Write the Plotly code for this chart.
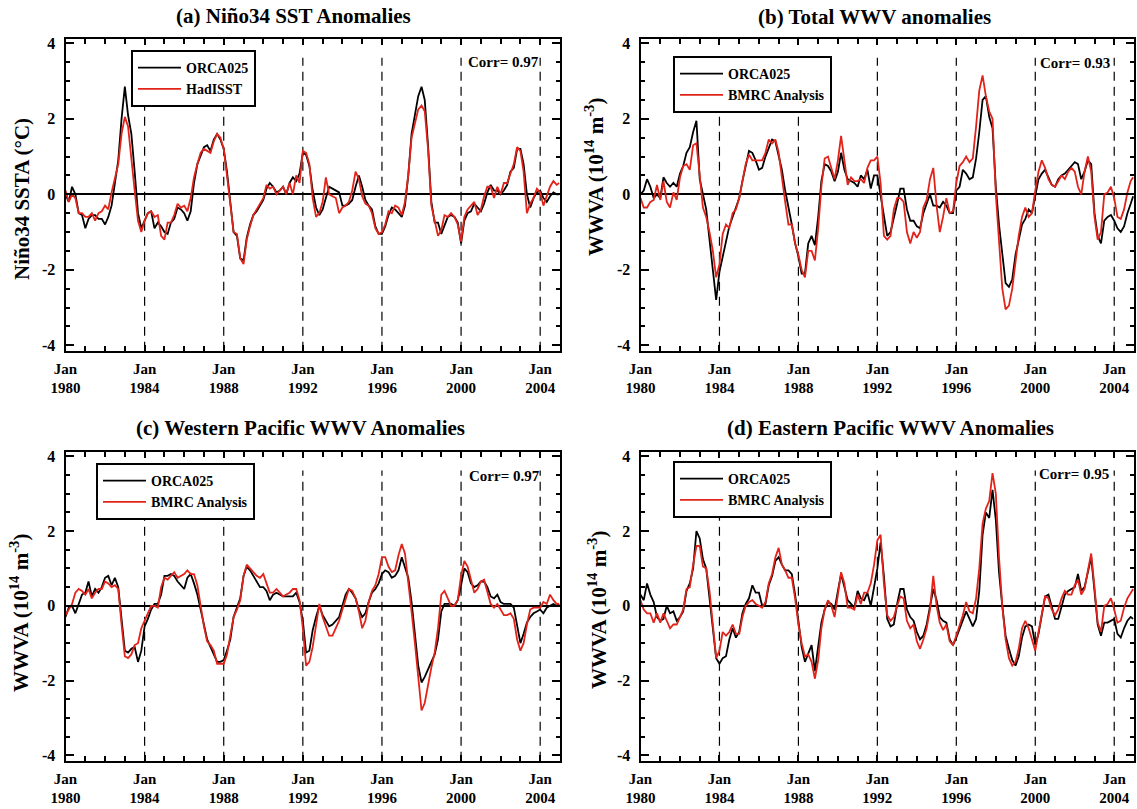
import pandas as pd
import plotly.graph_objects as go

# ---------------- data (2-monthly samples, Jan 1980 .. Nov 2004, + Dec 2004) ----------------
dates = list(pd.date_range("1980-01-01", periods=150, freq="2MS")) + [pd.Timestamp("2004-12-16")]

nino_orca = [
    0.0, -0.2, 0.2, 0.0, -0.5, -0.55,
    -0.9, -0.65, -0.55, -0.55, -0.65, -0.65,
    -0.8, -0.6, -0.3, 0.35, 0.9, 2.0,
    2.85, 2.1, 1.6, 0.6, -0.5, -0.9,
    -0.7, -0.5, -0.45, -0.9, -0.75, -0.85,
    -1.0, -1.05, -0.75, -0.65, -0.35, -0.4,
    -0.5, -0.7, -0.45, 0.3, 0.8, 1.05,
    1.25, 1.3, 1.15, 1.45, 1.6, 1.45,
    1.2, 0.6, -0.2, -1.0, -1.1, -1.7,
    -1.75, -1.15, -0.8, -0.55, -0.45, -0.3,
    -0.15, 0.15, 0.3, 0.2, 0.05, 0.1,
    0.2, 0.0, 0.3, 0.45, 0.35, 0.55,
    1.1, 1.05, 0.75, 0.1, -0.35, -0.55,
    -0.4, -0.1, 0.2, 0.15, 0.1, 0.05,
    -0.3, -0.3, -0.25, -0.15, 0.2, 0.5,
    0.2, -0.15, -0.3, -0.4, -0.85, -1.05,
    -1.05, -0.85, -0.55, -0.35, -0.4, -0.5,
    -0.6, -0.3, 0.5, 1.6, 2.1, 2.6,
    2.85, 2.5, 1.3, -0.2, -0.75, -0.75,
    -1.05, -0.8, -0.6, -0.55, -0.6, -0.75,
    -1.3, -0.7, -0.5, -0.45, -0.25, -0.35,
    -0.45, -0.25, 0.05, 0.25, 0.1, 0.1,
    0.0, 0.1, 0.25, 0.6, 0.7, 1.2,
    1.2, 0.8, 0.0, -0.35, -0.1, 0.05,
    0.1, -0.1, -0.2, -0.05, 0.05, 0.0, 0.0,
]
nino_hadisst = [
    0.1, -0.2, 0.0, -0.1, -0.5, -0.5,
    -0.6, -0.6, -0.5, -0.7, -0.5, -0.45,
    -0.3, -0.4, 0.05, 0.45, 0.8, 1.6,
    2.05, 1.8, 0.9, 0.1, -0.7, -1.0,
    -0.7, -0.5, -0.45, -0.6, -0.55, -1.1,
    -1.2, -0.75, -0.75, -0.55, -0.25, -0.35,
    -0.3, -0.45, -0.1, 0.45, 0.8, 1.1,
    1.2, 1.15, 1.1, 1.4, 1.6, 1.5,
    1.2, 0.5, -0.3, -1.0, -1.05, -1.7,
    -1.85, -1.2, -0.85, -0.55, -0.4, -0.25,
    -0.1, 0.25, 0.15, 0.2, 0.0, 0.1,
    0.2, 0.0, 0.3, 0.0, 0.5, 0.3,
    1.15, 1.1, 0.8, -0.1, -0.6, -0.5,
    -0.2, 0.45, 0.0, -0.05, -0.1, -0.5,
    -0.35, -0.3, -0.2, 0.1, 0.6, 0.4,
    -0.05, -0.25, -0.3, -0.5, -0.9, -1.05,
    -1.0, -0.8, -0.45, -0.5, -0.3, -0.35,
    -0.55, -0.2, 0.5, 1.5, 1.9, 2.25,
    2.35, 2.2, 1.2, -0.3, -0.7, -1.1,
    -0.95, -0.55, -0.6, -0.5, -0.6, -0.8,
    -1.25, -0.6, -0.4, -0.3, -0.2, -0.55,
    -0.4, -0.05, 0.2, 0.2, -0.1, 0.2,
    0.0, 0.3, 0.3, 0.55, 0.8, 1.25,
    1.15, 0.6, -0.5, -0.25, -0.1, 0.15,
    0.05, -0.3, -0.05, 0.2, 0.35, 0.25, 0.3,
]
total_orca = [
    0.0, 0.1, 0.4, 0.2, -0.1, 0.0,
    -0.1, 0.45, 0.3, 0.2, 0.3, 0.2,
    0.55, 0.75, 1.1, 1.25, 1.65, 1.95,
    0.4, 0.0, -0.4, -1.2, -2.1, -2.8,
    -2.05, -1.65, -1.25, -0.85, -0.6, -0.35,
    -0.1, 0.35, 0.75, 1.15, 1.1, 0.9,
    0.65, 0.7, 1.0, 1.25, 1.45, 1.4,
    1.0, 0.65, 0.1, -0.3, -0.8, -1.3,
    -1.65, -2.1, -2.1, -1.3, -1.1, -1.35,
    -0.6, 0.35, 0.8, 0.75, 0.6, 0.35,
    0.6, 1.1, 0.65, 0.4, 0.35, 0.3,
    0.2, 0.5, 0.4, 0.65, 0.15, 0.5,
    0.5, 0.0, -0.6, -1.1, -1.0, -0.65,
    -0.25, 0.15, 0.15, -0.4, -0.7, -0.7,
    -0.85, -0.9, -0.5, -0.25, 0.0, -0.3,
    -0.3, -0.35, -0.2, -0.3, -0.5, -0.5,
    0.1, 0.2, 0.65, 0.55, 0.4, 0.45,
    0.95, 1.65, 2.5, 2.6, 2.05, 1.75,
    0.2, -0.8, -1.5, -2.35, -2.45, -2.25,
    -1.6, -1.2, -0.8, -0.65, -0.4, -0.5,
    -0.05, 0.4, 0.55, 0.65, 0.45, 0.25,
    0.2, 0.4, 0.5, 0.55, 0.65, 0.75,
    0.85, 0.8, 0.4, 0.6, 0.9, 0.8,
    -0.5, -1.1, -1.3, -0.7, -0.6, -0.55,
    -0.7, -0.9, -1.0, -0.85, -0.5, -0.25, -0.05,
]
total_bmrc = [
    -0.1, -0.35, -0.35, -0.2, -0.15, 0.25,
    -0.15, 0.35, -0.2, -0.35, 0.05, -0.15,
    0.45, 0.75, 0.8, 0.65, 1.3, 1.35,
    0.5, -0.35, -0.6, -1.0, -1.5, -2.2,
    -1.85, -1.05, -0.8, -0.9, -0.5, -0.4,
    -0.1, 0.3, 0.8, 1.05, 0.9, 0.9,
    0.9, 0.9, 1.1, 1.45, 1.35, 1.45,
    1.1, 0.4, -0.2, -0.8, -0.8, -1.3,
    -1.6, -2.0, -2.2, -1.5, -1.5, -1.75,
    -0.9, 0.2, 0.95, 1.0, 0.7, 0.4,
    0.9, 1.55, 0.9, 0.25, 0.45, 0.35,
    0.35, 0.4, 0.3, 0.7, 0.9, 0.9,
    1.0, 0.3, -1.1, -1.2, -1.1, -0.4,
    -0.1, -0.1, -0.2, -1.0, -1.3, -1.0,
    -1.15, -1.0, -0.35, -0.15, 0.4, 0.7,
    -0.3, -1.0, -0.6, -0.1, -0.5, -0.45,
    0.3, 0.75, 0.85, 1.0, 0.85, 0.95,
    1.8, 2.75, 3.15, 2.6, 2.2, 2.0,
    0.0, -1.3, -2.5, -3.05, -2.95, -2.5,
    -1.75, -1.1, -0.6, -0.35, -0.6, -0.5,
    0.1, 0.6, 0.9, 0.7, 0.4, 0.25,
    0.2, 0.35, 0.5, 0.4, 0.6, 0.7,
    0.6, 0.2, 0.0, 0.6, 1.0, 0.6,
    -0.6, -1.2, -1.0, 0.0, 0.05, 0.2,
    -0.1, -0.6, -0.65, -0.4, 0.05, 0.35, 0.45,
]
west_orca = [
    -0.3, -0.05, 0.0, -0.2, 0.05, 0.3,
    0.35, 0.65, 0.25, 0.45, 0.35, 0.5,
    0.75, 0.8, 0.55, 0.75, 0.5, -0.35,
    -1.2, -1.25, -1.15, -1.1, -1.5, -1.2,
    -0.55, -0.35, -0.1, 0.05, 0.05, 0.3,
    0.8, 0.8, 0.85, 0.8, 0.65, 0.55,
    0.45, 0.75, 0.85, 0.6, 0.3, -0.1,
    -0.55, -0.9, -1.1, -1.3, -1.5, -1.5,
    -1.45, -1.2, -0.9, -0.3, -0.05, 0.2,
    0.8, 1.05, 0.95, 0.8, 0.65, 0.5,
    0.5, 0.4, 0.15, 0.3, 0.35, 0.3,
    0.25, 0.25, 0.25, 0.25, 0.35, 0.1,
    -0.4, -1.25, -1.2, -0.65, -0.3, 0.0,
    -0.25, -0.4, -0.55, -0.5, -0.4, -0.3,
    0.0, 0.3, 0.45, 0.35, 0.2, -0.1,
    -0.3, -0.2, 0.1, 0.35, 0.45, 0.6,
    0.85, 0.95, 0.9, 0.75, 0.8, 0.95,
    1.3, 1.0, 0.75, 0.1, -0.8, -1.6,
    -2.05, -1.9, -1.7, -1.5, -1.3, -0.9,
    -0.15, 0.05, 0.05, 0.05, 0.0, 0.15,
    0.55, 1.0, 0.9, 0.6, 0.5, 0.55,
    0.65, 0.65, 0.5, 0.25, 0.2, 0.3,
    0.1, 0.05, 0.05, 0.05, -0.05, -0.55,
    -1.0, -0.75, -0.45, -0.3, -0.2, -0.15,
    -0.1, -0.2, -0.05, 0.0, 0.05, 0.0, 0.05,
]
west_bmrc = [
    -0.25, -0.1, 0.05, 0.35, 0.45, 0.4,
    0.3, 0.45, 0.2, 0.35, 0.45, 0.45,
    0.65, 0.6, 0.5, 0.55, 0.45, -0.5,
    -1.35, -1.4, -1.3, -1.05, -1.0, -0.6,
    -0.4, -0.2, 0.0, 0.0, -0.05, 0.5,
    0.75, 0.7, 0.8, 0.9, 0.75, 0.8,
    0.85, 0.95, 0.85, 0.85, 0.55, 0.0,
    -0.55, -0.95, -1.05, -1.2, -1.55, -1.55,
    -1.55, -1.3, -0.8, -0.3, -0.1, 0.15,
    0.8, 1.1, 1.0, 0.9, 0.8, 0.75,
    0.85, 0.6, 0.35, 0.35, 0.45, 0.35,
    0.25, 0.3, 0.35, 0.45, 0.45, 0.15,
    -0.6, -1.6, -1.5, -1.1, -0.5, 0.05,
    -0.3, -0.55, -0.8, -0.8, -0.6, -0.4,
    -0.1, 0.2, 0.45, 0.4, 0.2, -0.15,
    -0.6, -0.4, 0.1, 0.4, 0.55, 0.85,
    1.3, 1.3, 1.05, 0.9, 0.95, 1.35,
    1.65, 1.4, 0.7, -0.15, -1.0, -2.0,
    -2.8, -2.6, -2.1, -1.65, -1.25, -0.6,
    0.3, 0.4, 0.2, 0.0, 0.0, 0.15,
    0.8, 1.2, 1.05, 0.7, 0.35, 0.45,
    0.65, 0.7, 0.4, 0.05, -0.05, 0.05,
    -0.1, -0.25, -0.25, -0.2, -0.35, -0.9,
    -1.2, -1.0, -0.5, -0.1, -0.05, -0.05,
    -0.05, 0.1, 0.05, 0.3, 0.15, 0.05, 0.05,
]
east_orca = [
    0.3, 0.15, 0.6, 0.3, 0.1, -0.3,
    -0.4, -0.35, 0.0, -0.2, -0.15, -0.4,
    -0.3, -0.15, 0.4, 0.6, 1.0, 2.0,
    1.8, 1.25, 1.0, 0.2, -0.55, -1.4,
    -1.55, -1.4, -1.35, -0.9, -0.6, -0.85,
    -0.7, -0.2, 0.05, 0.2, 0.55, 0.35,
    0.35, 0.0, 0.05, 0.55, 0.8, 1.2,
    1.3, 1.1, 0.95, 0.95, 0.85, 0.3,
    -0.4, -1.1, -1.5, -1.3, -1.05, -1.75,
    -1.05, -0.45, -0.1, 0.1, 0.05, -0.1,
    0.4, 0.85, 0.5, 0.15, 0.05, -0.05,
    0.4, 0.2, 0.15, 0.35, 0.0, 0.45,
    1.0, 1.7, 0.8, -0.35, -0.55, -0.5,
    0.05, 0.45, 0.45, -0.1, -0.3, -0.4,
    -0.7, -0.9, -0.8, -0.5, -0.05, 0.45,
    0.15, -0.3, -0.4, -0.45, -0.9, -1.05,
    -0.85, -0.6, -0.4, -0.15, -0.35, -0.55,
    -0.35, 0.4, 1.9, 2.5, 2.35, 3.1,
    2.3, 0.9, 0.0, -0.8, -1.15, -1.45,
    -1.6, -1.35, -0.85, -0.55, -0.5, -0.55,
    -1.05, -0.75, -0.25, 0.25, 0.3, 0.0,
    -0.35, -0.35, 0.0, 0.3, 0.4, 0.45,
    0.5, 0.85, 0.4, 0.5, 0.9, 1.3,
    0.4, -0.5, -0.8, -0.45, -0.45, -0.4,
    -0.35, -0.75, -0.85, -0.6, -0.4, -0.3, -0.35,
]
east_bmrc = [
    0.15, -0.1, -0.2, -0.2, -0.45, -0.2,
    -0.45, -0.2, -0.4, -0.6, -0.5, -0.5,
    -0.3, -0.1, 0.45, 0.5, 1.1, 1.6,
    1.6, 1.05, 1.0, 0.4, -0.5, -1.4,
    -1.2, -0.7, -0.8, -0.7, -0.5, -0.75,
    -0.75, -0.3, 0.0, 0.1, 0.15, 0.05,
    0.0, -0.05, 0.1, 0.6, 0.85, 1.3,
    1.55, 1.1, 0.95, 0.75, 0.75, 0.2,
    -0.5, -1.0, -1.35, -1.3, -1.5, -1.95,
    -1.45, -0.6, -0.1, 0.15, 0.0, -0.3,
    0.3, 0.9, 0.6, -0.05, -0.05, -0.1,
    0.3, 0.05, 0.35, 0.35, 0.6, 1.1,
    1.75, 1.9, 0.6, -0.25, -0.4, -0.3,
    0.0, 0.25, 0.2, -0.4, -0.6, -0.5,
    -0.95, -1.15, -0.9, -0.6, -0.1, 0.8,
    0.0, -0.45, -0.65, -0.5, -0.95, -1.05,
    -0.8, -0.55, -0.25, 0.1, -0.15, -0.2,
    0.2, 1.0, 2.2, 2.6, 2.8, 3.55,
    3.0, 1.3, 0.0, -0.9, -1.4, -1.6,
    -1.5, -1.15, -0.6, -0.4, -0.6, -0.9,
    -1.2, -0.7, -0.2, 0.25, 0.2, -0.1,
    -0.25, -0.1, 0.2, 0.4, 0.3, 0.3,
    0.55, 0.7, 0.3, 0.45, 0.95, 1.4,
    0.5, -0.45, -0.7, 0.0, 0.05, 0.2,
    -0.1, -0.45, -0.4, -0.05, 0.2, 0.35, 0.45,
]

panel_titles = ["(a) Niño34 SST Anomalies", "(b) Total WWV anomalies",
                "(c) Western Pacific WWV Anomalies", "(d) Eastern Pacific WWV Anomalies"]
y_titles = ["Niño34 SSTA (°C)", "WWVA (10<sup>14</sup> m<sup>-3</sup>)",
            "WWVA (10<sup>14</sup> m<sup>-3</sup>)", "WWVA (10<sup>14</sup> m<sup>-3</sup>)"]
model_names = ["ORCA025", "ORCA025", "ORCA025", "ORCA025"]
obs_names = ["HadISST", "BMRC Analysis", "BMRC Analysis", "BMRC Analysis"]
corr_texts = ["Corr= 0.97", "Corr= 0.93", "Corr= 0.97", "Corr= 0.95"]
y_tickvals = [-4, -2, 0, 2, 4]
y_ticktext = ["-4", "-2", "0", "2", "4"]
dash_years = ["1984-01-01", "1988-01-01", "1992-01-01", "1996-01-01", "2000-01-01", "2004-01-01"]

model_series = [nino_orca, total_orca, west_orca, east_orca]
obs_series = [nino_hadisst, total_bmrc, west_bmrc, east_bmrc]

# ---------------- styling / layout ----------------
W, H = 1137, 809
FONT = "Liberation Serif"
RED = "#e2231a"
YR = [-4.143, 4.106]

# pixel geometry (window coordinates) of the four frames (left, right, top, bottom)
frames = [(65.5, 560.0, 39.3, 350.7), (640.5, 1134.0, 39.3, 350.7),
          (65.5, 560.0, 452.3, 760.7), (640.5, 1134.0, 452.3, 760.7)]
title_pos = [(293, 16), (874, 17), (300, 428), (890, 428)]
ylab_pos = [(22, 199), (594, 177), (19, 613), (597, 610)]
legend_pos = [(131, 50), (673, 56), (96, 463), (673, 461)]
corr_pos = [(503, 62), (1075, 63), (504, 476), (1074, 474)]

def px(x):
    return x / W

def py(y):
    return 1 - y / H

fig = go.Figure()
for i in range(4):
    ax = "" if i == 0 else str(i + 1)
    leg = "legend" if i == 0 else f"legend{i + 1}"
    fig.add_trace(go.Scatter(x=dates, y=model_series[i], mode="lines", name=model_names[i],
                             line=dict(color="black", width=1.8),
                             xaxis="x" + ax, yaxis="y" + ax, legend=leg))
    fig.add_trace(go.Scatter(x=dates, y=obs_series[i], mode="lines", name=obs_names[i],
                             line=dict(color=RED, width=1.8),
                             xaxis="x" + ax, yaxis="y" + ax, legend=leg))

layout = dict(width=W, height=H, autosize=False,
              margin=dict(l=0, r=0, t=0, b=0, pad=0, autoexpand=False),
              paper_bgcolor="white", plot_bgcolor="white",
              font=dict(family=FONT, color="black"), showlegend=True)

annotations = []
shapes = []
for i in range(4):
    ax = "" if i == 0 else str(i + 1)
    l, r, t, b = frames[i]
    layout["xaxis" + ax] = dict(
        domain=[px(l), px(r)], anchor="y" + ax, type="date", automargin=False,
        range=["1980-01-01", "2005-01-01"],
        tickmode="linear", tick0="1980-01-01", dtick="M48", tickformat="%b<br>%Y",
        ticks="inside", ticklen=6, tickwidth=1.5, tickcolor="black",
        showline=True, linewidth=2, linecolor="black", mirror="allticks",
        showgrid=False, zeroline=False, ticklabelstandoff=3,
        tickfont=dict(family=FONT, size=15, color="black", weight="bold"),
        minor=dict(dtick="M12", tick0="1980-01-01", ticks="inside", ticklen=5,
                   tickwidth=1.5, tickcolor="black", showgrid=False),
    )
    layout["yaxis" + ax] = dict(
        domain=[py(b), py(t)], anchor="x" + ax, range=YR, automargin=False,
        tickmode="array", tickvals=y_tickvals, ticktext=y_ticktext,
        ticks="inside", ticklen=8, tickwidth=1.5, tickcolor="black",
        showline=True, linewidth=2, linecolor="black", mirror="allticks",
        showgrid=False, zeroline=True, zerolinecolor="black", zerolinewidth=1.5,
        ticklabelstandoff=5,
        tickfont=dict(family=FONT, size=16, color="black", weight="bold"),
        minor=dict(dtick=0.5, tick0=0, ticks="inside", ticklen=4, tickwidth=1.5,
                   tickcolor="black", showgrid=False),
    )
    leg = "legend" if i == 0 else f"legend{i + 1}"
    lx, ly = legend_pos[i]
    layout[leg] = dict(x=px(lx), y=py(ly), xanchor="left", yanchor="top",
                       bgcolor="white", bordercolor="black", borderwidth=2,
                       font=dict(family=FONT, size=14, color="black", weight="bold"),
                       itemwidth=43, tracegroupgap=0)
    tx, ty = title_pos[i]
    annotations.append(dict(text=panel_titles[i], x=px(tx), y=py(ty), xref="paper", yref="paper",
                            showarrow=False, xanchor="center", yanchor="middle",
                            font=dict(family=FONT, size=21, color="black", weight="bold")))
    yx, yy = ylab_pos[i]
    annotations.append(dict(text=y_titles[i], x=px(yx), y=py(yy), xref="paper", yref="paper",
                            showarrow=False, xanchor="center", yanchor="middle", textangle=-90,
                            font=dict(family=FONT, size=21, color="black", weight="bold")))
    cx, cy = corr_pos[i]
    annotations.append(dict(text=corr_texts[i], x=px(cx), y=py(cy), xref="paper", yref="paper",
                            showarrow=False, xanchor="center", yanchor="middle",
                            font=dict(family=FONT, size=15, color="black", weight="bold")))
    for d in dash_years:
        shapes.append(dict(type="line", xref="x" + ax, yref="y" + ax, x0=d, x1=d,
                           y0=YR[0], y1=3.62, layer="below",
                           line=dict(color="black", width=1.2, dash="9px,6px")))

layout["annotations"] = annotations
layout["shapes"] = shapes
fig.update_layout(**layout)
# the figure fills the whole 1137x809 window: drop the page's default body margin
fig.write_html("out.html", config={"displayModeBar": False},
               post_script="document.body.style.margin='0';")
